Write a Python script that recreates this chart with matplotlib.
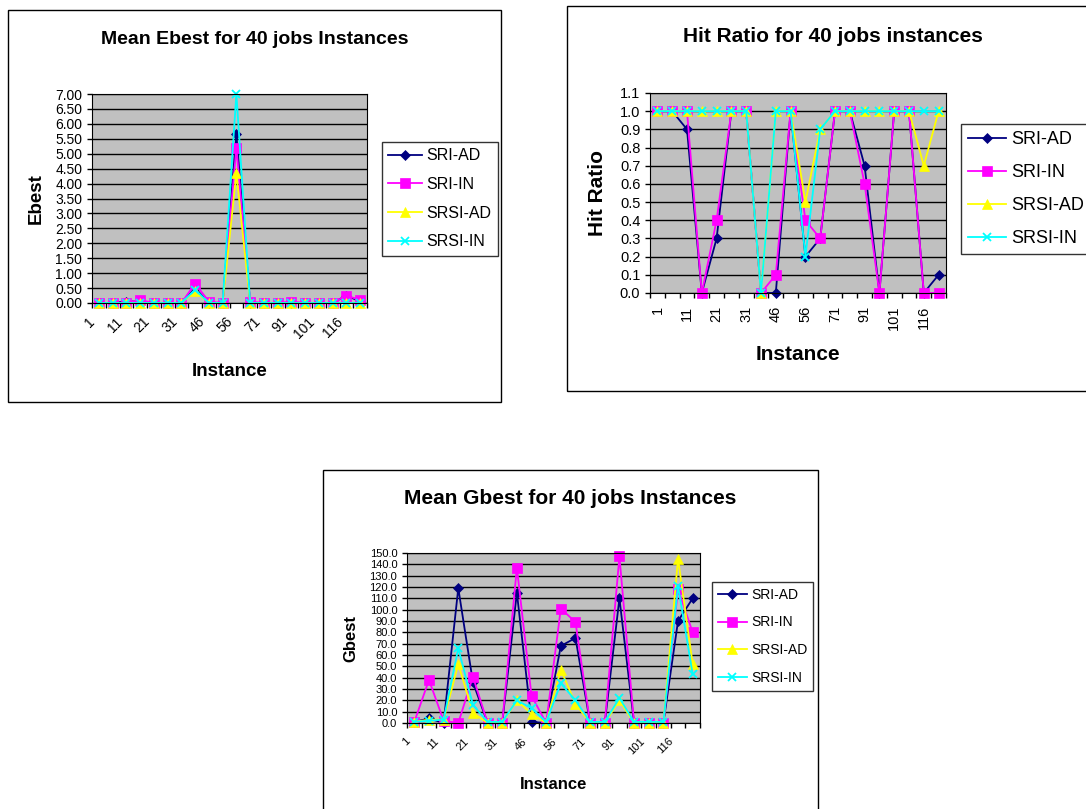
import matplotlib
matplotlib.use('Agg')
import matplotlib.pyplot as plt
from matplotlib.patches import Rectangle
from matplotlib.transforms import ScaledTranslation
import numpy as np

plt.rcParams['font.family'] = ['Liberation Sans', 'DejaVu Sans']

# labels shown under every second instance
tick_labels = ['1', '11', '21', '31', '46', '56', '71', '91', '101', '116']
series_names = ['SRI-AD', 'SRI-IN', 'SRSI-AD', 'SRSI-IN']

ebest_sri_ad = [0, 0, 0.05, 0.05, 0, 0, 0, 0.5, 0, 0, 5.65, 0, 0, 0, 0, 0, 0, 0, 0.25, 0.05]
ebest_sri_in = [0, 0, 0, 0.1, 0, 0, 0, 0.65, 0.05, 0, 5.2, 0.05, 0, 0, 0.05, 0, 0, 0, 0.25, 0.1]
ebest_srsi_ad = [0, 0, 0, 0, 0, 0, 0, 0.4, 0, 0, 4.35, 0, 0, 0, 0, 0, 0, 0, 0, 0]
ebest_srsi_in = [0, 0, 0, 0, 0, 0, 0, 0.45, 0, 0, 7.0, 0, 0, 0, 0, 0, 0, 0, 0, 0]

hit_sri_ad = [1, 1, 0.9, 0, 0.3, 1, 1, 0, 0, 1, 0.2, 0.3, 1, 1, 0.7, 0, 1, 1, 0, 0.1]
hit_sri_in = [1, 1, 1, 0, 0.4, 1, 1, 0, 0.1, 1, 0.4, 0.3, 1, 1, 0.6, 0, 1, 1, 0, 0]
hit_srsi_ad = [1, 1, 1, 1, 1, 1, 1, 0, 1, 1, 0.5, 0.9, 1, 1, 1, 1, 1, 1, 0.7, 1]
hit_srsi_in = [1, 1, 1, 1, 1, 1, 1, 0, 1, 1, 0.2, 0.9, 1, 1, 1, 1, 1, 1, 1, 1]

gbest_sri_ad = [1, 4, 0, 119, 36, 0, 0, 115, 1, 0, 68, 75, 0, 0, 110, 0, 0, 0, 90, 110]
gbest_sri_in = [1, 38, 2, 0, 41, 0, 0, 137, 24, 0, 101, 89, 0, 0, 147, 0, 0, 0, 118, 80]
gbest_srsi_ad = [1, 3, 3, 52, 9, 0, 0, 20, 8, 0, 47, 17, 0, 0, 20, 0, 0, 0, 145, 52]
gbest_srsi_in = [1, 2, 3, 66, 16, 1, 1, 20, 13, 1, 35, 20, 1, 1, 22, 1, 1, 1, 121, 43]

W, H = 1086, 809
fig = plt.figure(figsize=(W / 100, H / 100), dpi=100)


def px_axes(left, top, right, bottom):
    return fig.add_axes([left / W, 1 - bottom / H, (right - left) / W, (bottom - top) / H])


def px_box(left, top, right, bottom):
    fig.patches.append(Rectangle((left / W, 1 - bottom / H), (right - left) / W, (bottom - top) / H,
                                 transform=fig.transFigure, fill=False, edgecolor='black', lw=1))


def draw_chart(ax, data, yticks, yfmt, ylabel, tick_size, rot, legend_pos, legend_size, spacing):
    styles = [('#000080', 'D', 5), ('#FF00FF', 's', 6.5), ('#FFFF00', '^', 6.5), ('#00FFFF', 'x', 6)]
    x = np.arange(len(data[0]))
    for vals, name, (col, mk, ms) in zip(data, series_names, styles):
        ax.plot(x, vals, color=col, marker=mk, markersize=ms, lw=1.3, label=name,
                markeredgewidth=1.3 if mk == 'x' else 0.5, clip_on=False)
    ax.set_facecolor('#C0C0C0')
    ax.set_xlim(-0.5, len(x) - 0.5)
    ax.set_ylim(yticks[0], yticks[-1])
    ax.set_yticks(yticks)
    ax.set_yticklabels([yfmt % v for v in yticks], fontsize=tick_size)
    ax.yaxis.grid(True, color='black', lw=1)
    ax.set_axisbelow(True)
    ax.set_xticks(np.arange(-0.5, len(x)), labels=[])
    ax.set_xticks(x[::2], minor=True)
    if rot == 90:
        ax.set_xticklabels(tick_labels, minor=True, rotation=90, fontsize=tick_size,
                           ha='center', va='top')
        ax.tick_params(axis='x', which='minor', length=0, pad=9)
    else:
        ax.set_xticklabels(tick_labels, minor=True, rotation=45, fontsize=tick_size,
                           ha='right', va='center', rotation_mode='anchor')
        ax.tick_params(axis='x', which='minor', length=0, pad=12)
        shift = ScaledTranslation(-6 / 100, 0, fig.dpi_scale_trans)
        for lbl in ax.get_xticklabels(minor=True):
            lbl.set_transform(lbl.get_transform() + shift)
    ax.tick_params(axis='both', which='major', direction='out', length=3.5, width=1)
    for s in ax.spines.values():
        s.set_color('black')
    ax.set_ylabel(ylabel, fontsize=legend_size + 2, fontweight='bold')
    ax.set_xlabel('Instance', fontsize=legend_size + 2, fontweight='bold')
    leg = ax.legend(loc='upper left', bbox_to_anchor=(legend_pos[0] / W, 1 - legend_pos[1] / H),
                    bbox_transform=fig.transFigure, fontsize=legend_size, frameon=True,
                    fancybox=False, edgecolor='black', handlelength=2.1, labelspacing=spacing,
                    borderaxespad=0, handletextpad=0.3)
    leg.get_frame().set_linewidth(1)
    return ax


# chart 1: mean Ebest
px_box(8, 10, 501, 402)
ax1 = px_axes(92, 94, 367, 303)
draw_chart(ax1, [ebest_sri_ad, ebest_sri_in, ebest_srsi_ad, ebest_srsi_in],
           np.arange(0, 7.01, 0.5), '%.2f', 'Ebest', 10, 45, (382, 142), 11.5, 0.85)
fig.text(255 / W, 1 - 39 / H, 'Mean Ebest for 40 jobs Instances', fontsize=14, fontweight='bold',
         ha='center', va='center')
ax1.xaxis.set_label_coords(0.5, -0.285)
ax1.yaxis.set_label_coords(-0.171, 0.5)

# chart 2: hit ratio
px_box(567, 6, 1095, 391)
ax2 = px_axes(650, 93, 946, 293)
draw_chart(ax2, [hit_sri_ad, hit_sri_in, hit_srsi_ad, hit_srsi_in],
           np.round(np.arange(0, 1.11, 0.1), 1), '%.1f', 'Hit Ratio', 10.5, 90, (961, 124), 13, 0.88)
fig.text(833 / W, 1 - 37 / H, 'Hit Ratio for 40 jobs instances', fontsize=15, fontweight='bold',
         ha='center', va='center')
ax2.xaxis.set_label_coords(0.5, -0.26)
ax2.yaxis.set_label_coords(-0.145, 0.5)

# chart 3: mean Gbest
px_box(323, 470, 818, 815)
ax3 = px_axes(407, 553, 700, 723)
draw_chart(ax3, [gbest_sri_ad, gbest_sri_in, gbest_srsi_ad, gbest_srsi_in],
           np.arange(0, 151, 10), '%.1f', 'Gbest', 8, 45, (712, 582), 10, 1.0)
fig.text(570 / W, 1 - 499 / H, 'Mean Gbest for 40 jobs Instances', fontsize=15, fontweight='bold',
         ha='center', va='center')
ax3.xaxis.set_label_coords(0.5, -0.315)
ax3.yaxis.set_label_coords(-0.165, 0.5)

fig.savefig('out.png', dpi=100)
